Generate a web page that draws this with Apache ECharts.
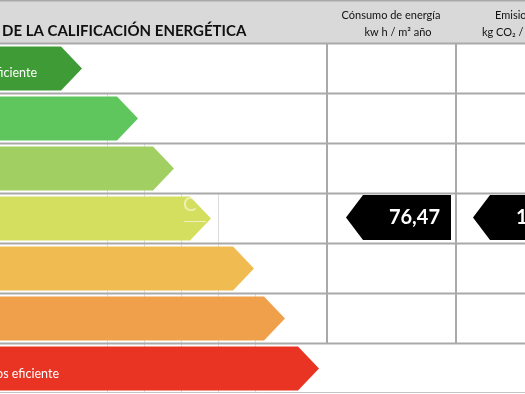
<!DOCTYPE html>
<html>
<head>
<meta charset="utf-8">
<script src="https://cdn.jsdelivr.net/npm/echarts@6/dist/echarts.min.js"></script>
<style>
html,body{margin:0;padding:0;background:#fff;}
#chart{width:525px;height:394px;}
</style>
</head>
<body>
<div id="chart"></div>
<script>
// ---- data ----
const ratings = ['A', 'B', 'C', 'D', 'E', 'F', 'G'];
// length of each rating arrow (tip position, px units of the scale strip)
const arrowLengths = [82, 138, 174, 211, 254, 285, 319];
const topLabel = 'Más eficiente';
const bottomLabel = 'Menos eficiente';
const title = 'DE LA CALIFICACIÓN ENERGÉTICA';
const col1Header = ['Cónsumo de energía', 'kw h / m² año'];
const col2Header = ['Emisiones', 'kg CO₂ / m² año'];
const currentRating = 'D';
const consumption = '76,47';
const emissions = '1';

// ---- styles ----
const palette = ['#3f9b35', '#5fc55d', '#a1cf62', '#d4df5f', '#f0bb50', '#f0a04b', '#e93323'];
const FONT = 'Lato, "Liberation Sans", sans-serif';

const chart = echarts.init(document.getElementById('chart'), null, {renderer: 'canvas'});

const gridLines = [];
// row separators
[43, 93, 143, 193, 243, 293, 343].forEach(y => {
  gridLines.push({type: 'line', z: 5, shape: {x1: 0, y1: y + 0.5, x2: 525, y2: y + 0.5}, style: {stroke: '#a9a9a9', lineWidth: 2}});
});
gridLines.push({type: 'line', z: 5, shape: {x1: 0, y1: 392.5, x2: 525, y2: 392.5}, style: {stroke: '#c4c4c4', lineWidth: 1}});
// column separators
[327, 456].forEach(x => {
  gridLines.push({type: 'line', z: 5, shape: {x1: x, y1: 43, x2: x, y2: 344}, style: {stroke: '#a9a9a9', lineWidth: 2}});
});
// faint spreadsheet gridlines
[[107.5, 93], [144.5, 143], [181.5, 193], [218.5, 193], [255.5, 293]].forEach(([x, y]) => {
  gridLines.push({type: 'line', z: 0, shape: {x1: x, y1: y, x2: x, y2: 393}, style: {stroke: '#dcdcdc', lineWidth: 1}});
});

const option = {
  animation: false,
  backgroundColor: '#ffffff',
  grid: {left: 0, right: 0, top: 43, bottom: 1, containLabel: false},
  xAxis: {type: 'value', min: 0, max: 525, show: false},
  yAxis: {type: 'category', data: ratings, inverse: true, show: false},
  graphic: [
    {type: 'rect', z: 1, shape: {x: 0, y: 0, width: 525, height: 43}, style: {fill: '#d9d9d9'}},
    {type: 'line', z: 2, shape: {x1: 0, y1: 0.5, x2: 525, y2: 0.5}, style: {stroke: '#a9a9a9', lineWidth: 2}},
    {type: 'text', z: 3, x: 2, y: 31, style: {text: title, font: 'bold 15px ' + FONT, fill: '#111', textVerticalAlign: 'middle'}},
    {type: 'text', z: 3, x: 391, y: 15, style: {text: col1Header[0], font: '11px ' + FONT, fill: '#111', textAlign: 'center', textVerticalAlign: 'middle'}},
    {type: 'text', z: 3, x: 398, y: 32, style: {text: col1Header[1], font: '11px ' + FONT, fill: '#111', textAlign: 'center', textVerticalAlign: 'middle'}},
    {type: 'text', z: 3, x: 495, y: 15, style: {text: col2Header[0], font: '11px ' + FONT, fill: '#111', textVerticalAlign: 'middle'}},
    {type: 'text', z: 3, x: 482, y: 32, style: {text: col2Header[1], font: '11px ' + FONT, fill: '#111', textVerticalAlign: 'middle'}},
    ...gridLines,
    {type: 'text', z: 20, x: 37, y: 73, style: {text: topLabel, font: '12.5px ' + FONT, fill: '#fff', textAlign: 'right', textVerticalAlign: 'middle'}},
    {type: 'text', z: 20, x: 59, y: 374, style: {text: bottomLabel, font: '12.5px ' + FONT, fill: '#fff', textAlign: 'right', textVerticalAlign: 'middle'}},
    {type: 'text', z: 20, x: 183, y: 205, style: {text: 'C', font: '20px ' + FONT, fill: 'rgba(255,255,255,0.55)', textVerticalAlign: 'middle'}},
    {type: 'line', z: 20, shape: {x1: 184, y1: 221.5, x2: 206, y2: 221.5}, style: {stroke: 'rgba(255,255,255,0.6)', lineWidth: 1}}
  ],
  series: [
    {
      type: 'custom',
      z: 10,
      data: ratings.map((r, i) => [arrowLengths[i], r, i]),
      encode: {x: 0, y: 1},
      renderItem: function (params, api) {
        const c = api.coord([api.value(0), api.value(1)]);
        const band = api.size([0, 1])[1];
        const h = band * 0.88;
        const tip = c[0];
        const y = c[1] + 0.5;
        const d = 21;
        const x0 = -5;
        return {
          type: 'polygon',
          shape: {points: [[x0, y - h / 2], [tip - d, y - h / 2], [tip, y], [tip - d, y + h / 2], [x0, y + h / 2]]},
          style: {fill: palette[api.value(2)]}
        };
      }
    },
    {
      type: 'custom',
      z: 10,
      data: [[0, currentRating, consumption, emissions]],
      encode: {y: 1},
      renderItem: function (params, api) {
        const c = api.coord([0, api.value(1)]);
        const band = api.size([0, 1])[1];
        const h = band * 0.9;
        const y = c[1] - 0.5;
        const d = 17;
        const v1 = consumption, v2 = emissions;
        return {
          type: 'group',
          children: [
            {type: 'polygon', shape: {points: [[346, y], [346 + d, y - h / 2], [451, y - h / 2], [451, y + h / 2], [346 + d, y + h / 2]]}, style: {fill: '#000'}},
            {type: 'text', x: 440, y: y + 0.5, style: {text: v1, font: 'bold 20px ' + FONT, fill: '#fff', textAlign: 'right', textVerticalAlign: 'middle'}},
            {type: 'polygon', shape: {points: [[473, y], [473 + d, y - h / 2], [540, y - h / 2], [540, y + h / 2], [473 + d, y + h / 2]]}, style: {fill: '#000'}},
            {type: 'text', x: 516, y: y + 0.5, style: {text: v2, font: 'bold 20px ' + FONT, fill: '#fff', textAlign: 'left', textVerticalAlign: 'middle'}}
          ]
        };
      }
    }
  ]
};
chart.setOption(option);
</script>
</body>
</html>
